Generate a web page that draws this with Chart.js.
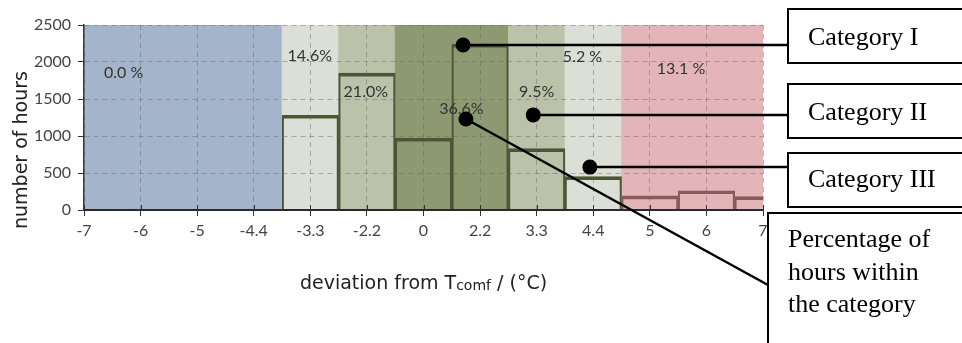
<!DOCTYPE html>
<html><head><meta charset="utf-8">
<script src="https://cdn.jsdelivr.net/npm/chart.js@4/dist/chart.umd.min.js"></script>
<style>html,body{margin:0;padding:0;background:#fff}#wrap{position:relative;width:962px;height:343px}</style>
</head><body><div id="wrap"><canvas id="c"></canvas></div>
<script>
// ---- data ----
const tickLabels = ['-7','-6','-5','-4.4','-3.3','-2.2','0','2.2','3.3','4.4','5','6','7'];
const binIndex = [4, 5, 6, 7, 8, 9, 10, 11, 12];
const hours = [1280, 1850, 970, 2240, 830, 450, 190, 260, 180];
const bandCategory = ['cold','cold','cold','cold','III','II','I','I','II','III','hot','hot','hot'];
const pctText = ['0.0 %', '14.6%', '21.0%', '36.6%', '9.5%', '5.2 %', '13.1 %'];
const pctAtX = [0.70, 3.99, 4.98, 6.67, 8.0, 8.81, 10.55];
const pctAtY = [1860, 2080, 1590, 1370, 1590, 2075, 1905];
const calloutText = [['Category I'], ['Category II'], ['Category III'], ['Percentage of', 'hours within', 'the category']];
const calloutAtX = [6.70, 7.94, 8.94, 6.75];
const calloutAtY = [2230, 1285, 580, 1230];
const yMax = 2500;

// ---- styles ----
const bandColors = {cold: '#a4b4cb', III: '#dcdfd5', II: '#bcc2a9', I: '#8d9a71', hot: '#e4b5b8'};
const outlineGreen = '#4c5636', outlineRed = '#8a5a5a';
const FONT = '"DejaVu Sans", sans-serif';
const TFONT = 'Lato, "DejaVu Sans", sans-serif';

const annotations = {
  id: 'annotations',
  afterDraw(chart) {
    const {ctx, scales: {x, y}, chartArea: ca} = chart;
    ctx.save();
    // inner part of x tick marks (ticks cross the axis)
    ctx.strokeStyle = '#333';
    ctx.lineWidth = 1;
    x.ticks.forEach((t, i) => {
      const px = Math.round(x.getPixelForTick(i)) + 0.5;
      ctx.beginPath(); ctx.moveTo(px, ca.bottom - 5); ctx.lineTo(px, ca.bottom); ctx.stroke();
    });
    // percentage labels
    ctx.font = '16px ' + TFONT;
    ctx.fillStyle = '#333';
    ctx.textAlign = 'center';
    ctx.textBaseline = 'middle';
    pctText.forEach((t, i) => ctx.fillText(t, x.getPixelForValue(pctAtX[i]), y.getPixelForValue(pctAtY[i])));

    // callout boxes (layout)
    const boxes = [
      {l: 788, t: 9, h: 54, tx: 808, base: [45]},
      {l: 788, t: 84, h: 54, tx: 808, base: [120]},
      {l: 788, t: 153, h: 54, tx: 808, base: [187]},
      {l: 768, t: 213, h: 160, tx: 788, base: [247, 280, 312], end: [768, 285]}
    ];
    ctx.strokeStyle = '#000';
    ctx.lineWidth = 2.5;
    calloutText.forEach((lines, i) => {
      const b = boxes[i];
      const px = x.getPixelForValue(calloutAtX[i]);
      const py = y.getPixelForValue(calloutAtY[i]);
      const ex = b.end ? b.end[0] : b.l;
      const ey = b.end ? b.end[1] : py;
      ctx.beginPath(); ctx.moveTo(px, py); ctx.lineTo(ex, ey); ctx.stroke();
    });
    calloutText.forEach((lines, i) => {
      const px = x.getPixelForValue(calloutAtX[i]);
      const py = y.getPixelForValue(calloutAtY[i]);
      ctx.beginPath(); ctx.arc(px, py, 7.5, 0, Math.PI * 2); ctx.fillStyle = '#000'; ctx.fill();
    });
    ctx.font = '26px "Liberation Serif", "Times New Roman", serif';
    ctx.textAlign = 'left';
    ctx.textBaseline = 'alphabetic';
    ctx.lineWidth = 2;
    calloutText.forEach((lines, i) => {
      const b = boxes[i];
      ctx.fillStyle = '#fff';
      ctx.fillRect(b.l, b.t, 300, b.h);
      ctx.strokeRect(b.l, b.t, 300, b.h);
      ctx.fillStyle = '#000';
      lines.forEach((s, k) => ctx.fillText(s, b.tx, b.base[k]));
    });

    // axis titles
    ctx.fillStyle = '#222';
    ctx.font = '19px ' + FONT;
    ctx.save();
    ctx.translate(22, 150);
    ctx.rotate(-Math.PI / 2);
    ctx.textAlign = 'center';
    ctx.textBaseline = 'middle';
    ctx.fillText('number of hours', 0, 0);
    ctx.restore();

    const p1 = 'deviation from T', sub = 'comf', p2 = ' / (\u00B0C)';
    ctx.font = '19px ' + FONT;
    const w1 = ctx.measureText(p1).width, w3 = ctx.measureText(p2).width;
    ctx.font = '14px ' + FONT;
    const w2 = ctx.measureText(sub).width;
    let sx = (ca.left + ca.right) / 2 - (w1 + w2 + w3) / 2;
    const base = 289;
    ctx.textAlign = 'left';
    ctx.textBaseline = 'alphabetic';
    ctx.font = '19px ' + FONT; ctx.fillText(p1, sx, base); sx += w1;
    ctx.font = '14px ' + FONT; ctx.fillText(sub, sx, base + 1); sx += w2;
    ctx.font = '19px ' + FONT; ctx.fillText(p2, sx, base);
    ctx.restore();
  }
};

new Chart(document.getElementById('c'), {
  type: 'bar',
  data: {
    datasets: [
      {
        label: 'hours',
        data: binIndex.map((v, i) => ({x: v, y: hours[i]})),
        backgroundColor: 'rgba(0,0,0,0)',
        borderColor: (c) => c.raw && bandCategory[c.raw.x] === 'hot' ? outlineRed : outlineGreen,
        borderWidth: {top: 3, left: 1.5, right: 1.5, bottom: 0},
        borderSkipped: 'start',
        barPercentage: 1, categoryPercentage: 1, grouped: false, clip: 0, order: 1
      },
      {
        label: 'bands',
        data: bandCategory.map((c, i) => ({x: i, y: yMax})),
        backgroundColor: bandCategory.map(c => bandColors[c]),
        borderWidth: 0,
        barPercentage: 1, categoryPercentage: 1, grouped: false, clip: 0, order: 2
      }
    ]
  },
  options: {
    responsive: true, maintainAspectRatio: false, animation: false,
    layout: {padding: {top: 25, right: 199, left: 0, bottom: 0}},
    plugins: {legend: {display: false}, tooltip: {enabled: false}},
    scales: {
      x: {
        type: 'linear', min: 0, max: 12, offset: false,
        afterFit: (s) => { s.height = 133; },
        afterBuildTicks: (s) => { s.ticks = tickLabels.map((_, i) => ({value: i})); },
        ticks: {callback: (v, i) => tickLabels[i], color: '#444', font: {family: TFONT, size: 16}, padding: 5, maxRotation: 0, autoSkip: false},
        grid: {z: 1, color: 'rgba(100,100,100,0.45)', lineWidth: 1, tickLength: 6, tickColor: '#333', tickBorderDash: [], offset: false},
        border: {z: 2, color: '#2b2b2b', width: 2, dash: [5, 4]}
      },
      y: {
        min: 0, max: yMax,
        afterFit: (s) => { s.width = 84; },
        ticks: {stepSize: 500, callback: (v) => String(v), color: '#444', font: {family: TFONT, size: 16}, padding: 7},
        grid: {z: 1, color: 'rgba(100,100,100,0.45)', lineWidth: 1, tickLength: 6, tickColor: '#333', tickBorderDash: []},
        border: {z: 2, color: '#2e3a4e', width: 1.5, dash: [5, 4]}
      }
    }
  },
  plugins: [annotations]
});
</script></body></html>
